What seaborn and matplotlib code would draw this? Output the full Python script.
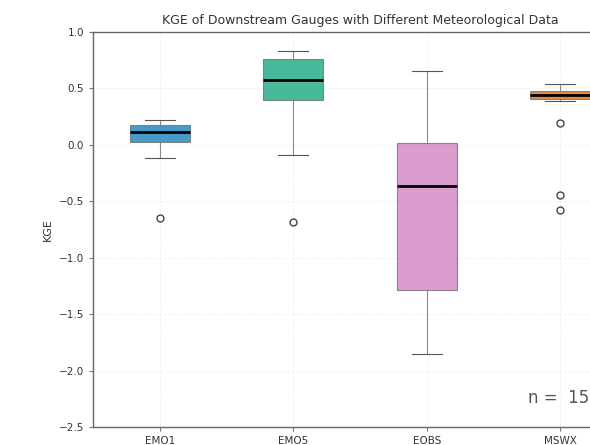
import matplotlib
matplotlib.use("Agg")
import matplotlib.pyplot as plt
import pandas as pd
import seaborn as sns

# KGE of the 15 downstream gauges, one list per forcing dataset
sources = ["EMO1", "EMO5", "EOBS", "MSWX"]
kge_emo1 = [-0.652, -0.112, 0.010, 0.020, 0.030, 0.060, 0.090, 0.113,
            0.130, 0.150, 0.170, 0.182, 0.195, 0.210, 0.225]
kge_emo5 = [-0.679, -0.090, 0.300, 0.390, 0.414, 0.470, 0.520, 0.579,
            0.640, 0.700, 0.750, 0.780, 0.800, 0.820, 0.832]
kge_eobs = [-1.857, -1.700, -1.500, -1.300, -1.272, -1.000, -0.700, -0.364,
            -0.200, -0.100, 0.000, 0.034, 0.200, 0.400, 0.654]
kge_mswx = [-0.580, -0.447, 0.190, 0.390, 0.418, 0.425, 0.435, 0.442,
            0.450, 0.460, 0.470, 0.486, 0.500, 0.520, 0.537]

df = pd.DataFrame({
    "source": [s for s, v in zip(sources, [kge_emo1, kge_emo5, kge_eobs, kge_mswx]) for _ in v],
    "KGE": kge_emo1 + kge_emo5 + kge_eobs + kge_mswx,
})

cb = sns.color_palette("colorblind")
palette = {"EMO1": cb[0], "EMO5": cb[2], "EOBS": cb[4], "MSWX": cb[3]}

fig = plt.figure(figsize=(5.9, 4.45), dpi=100)
ax = fig.add_axes([0.1576, 0.0404, 0.905, 0.8876])

sns.boxplot(data=df, x="source", y="KGE", hue="source", palette=palette,
            order=sources, width=0.45, linewidth=0.8, linecolor="#666666",
            saturation=1,
            boxprops={"alpha": 0.72},
            whiskerprops={"color": "#888888"},
            capprops={"color": "#555555"},
            medianprops={"color": "black", "linewidth": 2},
            flierprops={"marker": "o", "markerfacecolor": "none",
                        "markeredgecolor": "#444444", "markersize": 5},
            legend=False, ax=ax)

ax.set_ylim(-2.5, 1.0)
ax.set_xlim(-0.5, 3.5)
ax.grid(True, linestyle=":", color="#e4e4e4", linewidth=0.6)
ax.set_axisbelow(True)

ax.text(2.76, -2.24, "n =  15", fontsize=12, color="#555555", va="center")

ax.set_title("KGE of Downstream Gauges with Different Meteorological Data",
             fontsize=9, color="#333333")
ax.set_ylabel("KGE", fontsize=8, color="#333333")
ax.set_xlabel("")
ax.tick_params(labelsize=7.5, labelcolor="#333333", color="#777777", length=3)
for side in ["left", "bottom", "top", "right"]:
    ax.spines[side].set_color("#666666")
    ax.spines[side].set_linewidth(1)

fig.savefig("out.png", dpi=100)
